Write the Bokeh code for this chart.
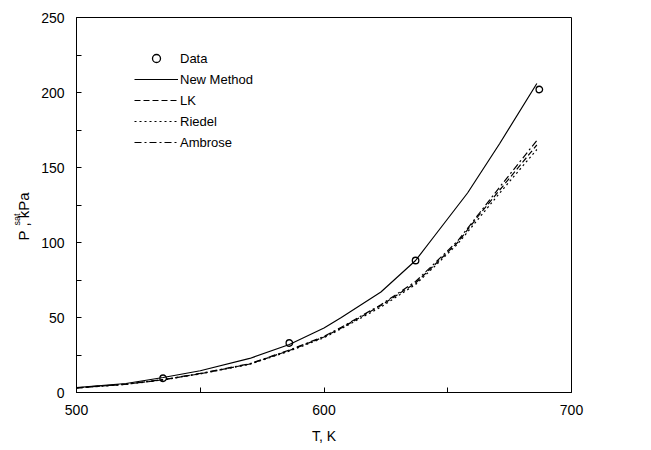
from bokeh.plotting import figure
from bokeh.models import FixedTicker, Range1d, Legend, LegendItem, Title
from bokeh.embed import file_html
from bokeh.resources import INLINE

# ---- data ----
t_data = [535, 586, 637, 687]
p_data = [9.5, 33, 88, 202]

t_new = [500, 520, 535, 550, 570, 586, 600, 607, 623, 637, 644, 658, 671, 686]
p_new = [3.3, 6, 10, 14.5, 22.7, 32, 43, 50, 67, 88, 103, 133, 166, 206]

t_est = [500, 520, 535, 550, 570, 586, 600, 607, 623, 637, 644, 654, 663, 671, 686]
p_lk = [3.0, 5.5, 8.5, 12.5, 19, 28, 37, 43, 58, 73, 84, 100, 119, 135, 165]
p_riedel = [3.0, 5.4, 8.4, 12.4, 18.8, 27.6, 36.5, 42.5, 57, 72, 83, 99, 117, 133, 162]
p_ambrose = [3.1, 5.6, 8.6, 12.7, 19.2, 28.3, 37.4, 43.5, 58.5, 74, 85, 101, 120, 137, 168]

x_major = [500, 550, 600, 650, 700]
x_labels = {500: "500", 550: "", 600: "600", 650: "", 700: "700"}
y_major = [0, 50, 100, 150, 200, 250]
y_minor = [25, 75, 125, 175, 225]

FONT = "Liberation Sans"

p = figure(frame_width=495, frame_height=375,
           x_range=Range1d(500, 700), y_range=Range1d(0, 250),
           output_backend="svg", toolbar_location=None,
           min_border_left=76, min_border_top=17, min_border_right=50, min_border_bottom=30)
p.xgrid.visible = False
p.ygrid.visible = False
p.outline_line_color = "black"
p.outline_line_width = 1
p.background_fill_color = "white"
p.border_fill_color = "white"

xa = p.xaxis[0]
xa.ticker = FixedTicker(ticks=x_major, minor_ticks=[])
xa.major_label_overrides = {k: v for k, v in x_labels.items()}
xa.major_tick_in = 5
xa.major_tick_out = 0
xa.minor_tick_in = 0
xa.minor_tick_out = 0
xa.major_label_standoff = 12
xa.major_label_text_font = FONT
xa.major_label_text_font_size = "14px"
xa.major_label_text_color = "black"
xa.axis_label = "T, K"
xa.axis_label_text_font = FONT
xa.axis_label_text_font_size = "14px"
xa.axis_label_text_font_style = "normal"
xa.axis_label_text_color = "black"
xa.axis_label_standoff = 10
xa.axis_line_color = "black"

ya = p.yaxis[0]
ya.ticker = FixedTicker(ticks=y_major, minor_ticks=y_minor)
ya.major_tick_in = 5
ya.major_tick_out = 0
ya.minor_tick_in = 5
ya.minor_tick_out = 0
ya.minor_tick_line_color = "black"
ya.major_label_standoff = 12
ya.major_label_text_font = FONT
ya.major_label_text_font_size = "14px"
ya.major_label_text_color = "black"
ya.axis_line_color = "black"

r_new = p.line(t_new, p_new, line_color="black", line_width=1.2)
r_lk = p.line(t_est, p_lk, line_color="black", line_width=1.2, line_dash="6 3")
r_ri = p.line(t_est, p_riedel, line_color="black", line_width=1.2, line_dash="2 3")
r_am = p.line(t_est, p_ambrose, line_color="black", line_width=1.2, line_dash="7 3 2 3")
r_data = p.scatter(t_data, p_data, marker="circle", size=6.5, fill_color=None,
                   line_color="black", line_width=1.3)

legend = Legend(items=[
    LegendItem(label="Data", renderers=[r_data]),
    LegendItem(label="New Method", renderers=[r_new]),
    LegendItem(label="LK", renderers=[r_lk]),
    LegendItem(label="Riedel", renderers=[r_ri]),
    LegendItem(label="Ambrose", renderers=[r_am]),
], location=(58, 240))
legend.border_line_color = None
legend.background_fill_alpha = 0
legend.padding = 0
legend.margin = 0
legend.spacing = 1
legend.glyph_width = 44
legend.glyph_height = 20
legend.label_height = 20
legend.label_standoff = 2
legend.label_text_font = FONT
legend.label_text_font_size = "13px"
legend.label_text_color = "black"
p.add_layout(legend, "center")

# y axis label: P^sat, kPa, built from two side titles
t_main = Title(text="P    , kPa", align="left", offset=152, text_font=FONT,
               text_font_size="15px", text_font_style="normal", text_color="black",
               standoff=14)
t_sup = Title(text="sat", align="left", offset=167, text_font=FONT,
              text_font_size="9px", text_font_style="normal", text_color="black",
              standoff=-32)
p.add_layout(t_main, "left")
p.add_layout(t_sup, "left")

open("out.html", "w").write(file_html(p, INLINE))
